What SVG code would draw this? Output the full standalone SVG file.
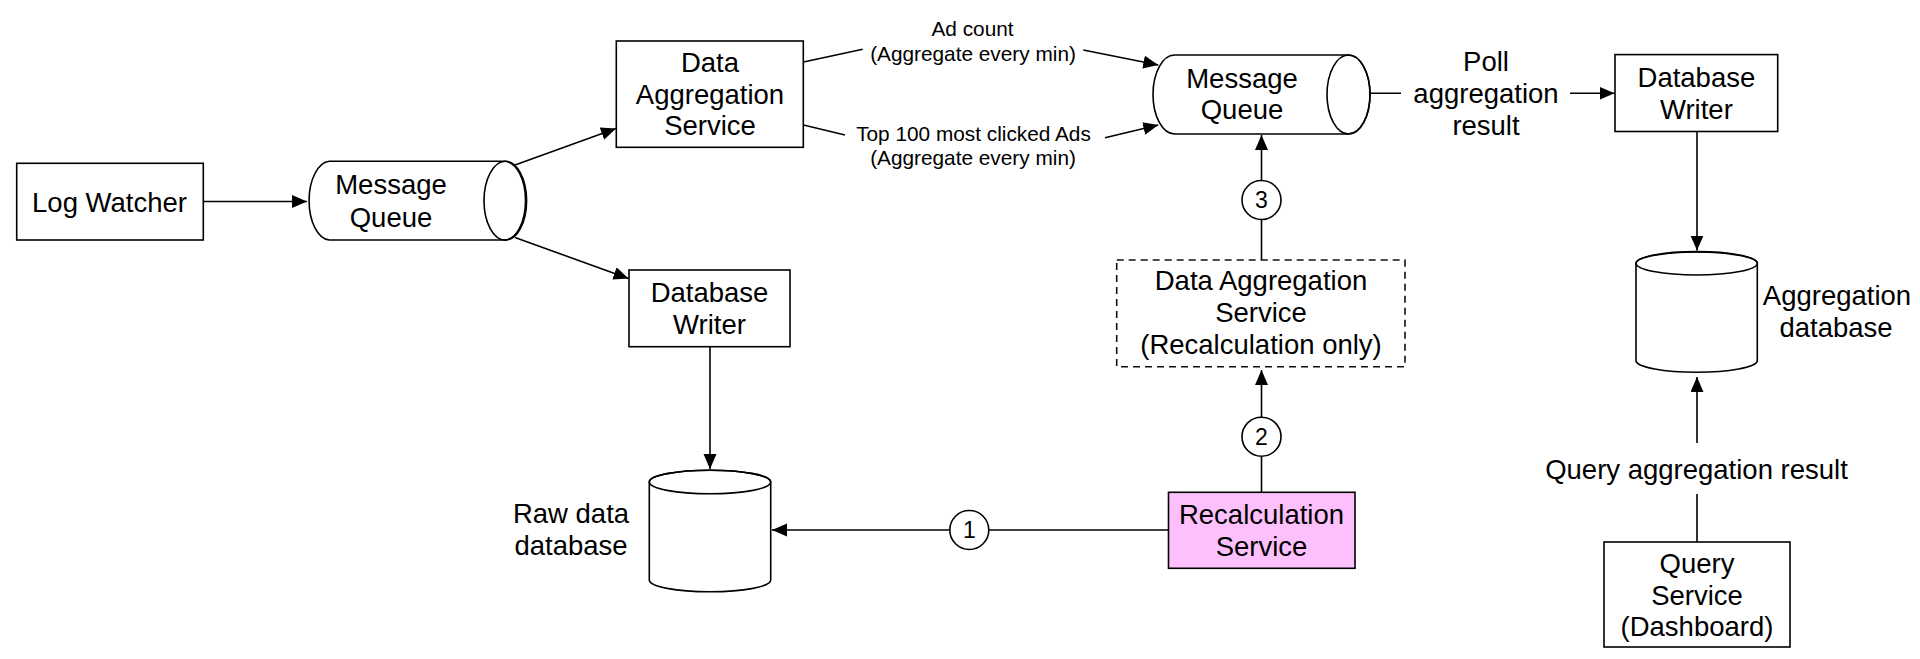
<svg xmlns="http://www.w3.org/2000/svg" width="1920" height="659" viewBox="0 0 1920 659">
<defs>
<marker id="arr" markerUnits="userSpaceOnUse" markerWidth="16" markerHeight="14" refX="15" refY="6.5" orient="auto">
<path d="M0,0 L15,6.5 L0,13 Z" fill="#000"/>
</marker>
<style>
.box{fill:#fff;stroke:#000;stroke-width:1.6}
.dash{fill:#fff;stroke:#111;stroke-width:1.6;stroke-dasharray:7 5}
.pink{fill:#FDC0FC;stroke:#000;stroke-width:1.6}
.shape{fill:#fff;stroke:#000;stroke-width:1.6}
.line{fill:none;stroke:#000;stroke-width:1.6}
.conn{fill:none;stroke:#000;stroke-width:1.6;marker-end:url(#arr)}
.circ{fill:#fff;stroke:#000;stroke-width:1.6}
text{font-family:"Liberation Sans",Arial,Helvetica,sans-serif;fill:#000}
.t{font-size:27.5px;text-anchor:middle}
.s{font-size:20.8px;text-anchor:middle}
.n{font-size:23px;text-anchor:middle}
</style>
</defs>
<rect width="1920" height="659" fill="#fff"/>

<g id="connectors">
<path class="conn" d="M203,201.5 L307,201.5"/>
<path class="conn" d="M515,165 L616,128.5"/>
<path class="conn" d="M515,237.5 L628.5,278.5"/>
<path class="conn" d="M710,347 L710,469"/>
<path class="conn" d="M803.5,62 L862.7,49.3 M1083.3,50 L1158.3,65"/>
<path class="conn" d="M803.5,125 L845,135 M1105,137.7 L1158.3,125"/>
<path class="conn" d="M1370,93.3 L1401,93.3 M1570,93.3 L1614.5,93.3"/>
<path class="conn" d="M1697,131.5 L1697,250.5"/>
<path class="conn" d="M1697,542 L1697,494 M1697,443 L1697,377"/>
<path class="conn" d="M1261.5,260 L1261.5,219 M1261.5,181 L1261.5,135"/>
<path class="conn" d="M1261.5,492.3 L1261.5,456 M1261.5,417.5 L1261.5,370"/>
<path class="conn" d="M1168.5,530 L989,530 M949.5,530 L772,530"/>
</g>

<g id="step-markers">
<circle class="circ" cx="969.3" cy="530" r="19.5"/>
<text class="n" x="969.3" y="538">1</text>
<circle class="circ" cx="1261.5" cy="436.7" r="19.5"/>
<text class="n" x="1261.5" y="444.7">2</text>
<circle class="circ" cx="1261.5" cy="200" r="19.5"/>
<text class="n" x="1261.5" y="208">3</text>
</g>

<g id="edge-labels">
<text class="s" x="972.5" y="36">Ad count</text>
<text class="s" x="973" y="60.5">(Aggregate every min)</text>
<text class="s" x="973.5" y="140.5">Top 100 most clicked Ads</text>
<text class="s" x="973" y="165">(Aggregate every min)</text>
<text class="t" x="1486" y="71.4">Poll</text>
<text class="t" x="1486" y="103.3">aggregation</text>
<text class="t" x="1486" y="135.3">result</text>
<text class="t" x="1696.5" y="478.5">Query aggregation result</text>
</g>

<g id="log-watcher">
<rect class="box" x="16.7" y="163.3" width="186.6" height="76.7"/>
<text class="t" x="109.5" y="211.7">Log Watcher</text>
</g>

<g id="message-queue-1">
<path class="shape" d="M329.3,161.3 L505.3,161.3 A21.3,39.4 0 0 1 505.3,240 L329.3,240 A21.3,39.4 0 0 1 329.3,161.3 Z"/>
<ellipse class="line" cx="505.3" cy="200.7" rx="21.3" ry="39.4"/>
<text class="t" x="391" y="194">Message</text>
<text class="t" x="391" y="226.7">Queue</text>
</g>

<g id="data-aggregation-service">
<rect class="box" x="616.3" y="41" width="187" height="106.3"/>
<text class="t" x="710" y="71.7">Data</text>
<text class="t" x="710" y="103.5">Aggregation</text>
<text class="t" x="710" y="135.3">Service</text>
</g>

<g id="database-writer-1">
<rect class="box" x="629" y="270" width="161" height="76.7"/>
<text class="t" x="709.5" y="301.7">Database</text>
<text class="t" x="709.5" y="334">Writer</text>
</g>

<g id="raw-data-database">
<path class="shape" d="M649.3,482 L649.3,580 A60.7,11.8 0 0 0 770.7,580 L770.7,482 A60.7,11.8 0 0 0 649.3,482 Z"/>
<ellipse class="line" cx="710" cy="482" rx="60.7" ry="11.8"/>
<text class="t" x="571" y="523">Raw data</text>
<text class="t" x="571" y="555">database</text>
</g>

<g id="recalculation-service">
<rect class="pink" x="1168.5" y="492.3" width="186.5" height="76"/>
<text class="t" x="1261.5" y="523.5">Recalculation</text>
<text class="t" x="1261.5" y="555.5">Service</text>
</g>

<g id="data-aggregation-recalc">
<rect class="dash" x="1116.7" y="260" width="288.3" height="106.7"/>
<text class="t" x="1261" y="290">Data Aggregation</text>
<text class="t" x="1261" y="322">Service</text>
<text class="t" x="1261" y="353.5">(Recalculation only)</text>
</g>

<g id="message-queue-2">
<path class="shape" d="M1174.5,55 L1348.5,55 A21.5,39.5 0 0 1 1348.5,134 L1174.5,134 A21.5,39.5 0 0 1 1174.5,55 Z"/>
<ellipse class="line" cx="1348.5" cy="94.5" rx="21.5" ry="39.5"/>
<text class="t" x="1242" y="87.5">Message</text>
<text class="t" x="1242" y="119">Queue</text>
</g>

<g id="database-writer-2">
<rect class="box" x="1615" y="54.6" width="162.7" height="76.9"/>
<text class="t" x="1696.4" y="87">Database</text>
<text class="t" x="1696.4" y="119.3">Writer</text>
</g>

<g id="aggregation-database">
<path class="shape" d="M1636,263.3 L1636,361 A60.7,11.7 0 0 0 1757.3,361 L1757.3,263.3 A60.7,11.7 0 0 0 1636,263.3 Z"/>
<ellipse class="line" cx="1696.7" cy="263.3" rx="60.7" ry="11.7"/>
<text class="t" x="1837" y="305">Aggregation</text>
<text class="t" x="1836" y="337.3">database</text>
</g>

<g id="query-service">
<rect class="box" x="1604" y="542" width="186" height="105"/>
<text class="t" x="1697" y="573">Query</text>
<text class="t" x="1697" y="604.5">Service</text>
<text class="t" x="1697" y="636">(Dashboard)</text>
</g>
</svg>
